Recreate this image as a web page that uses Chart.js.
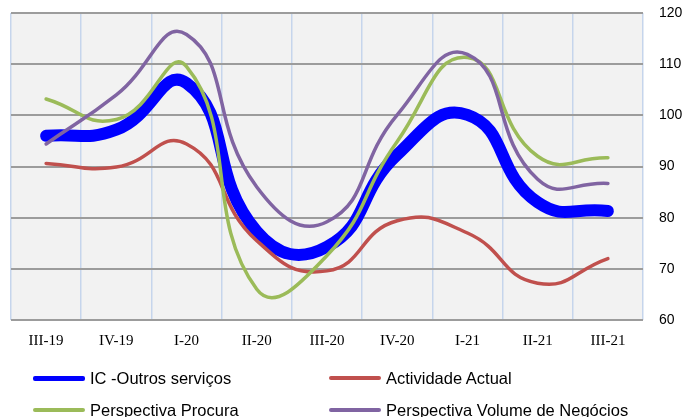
<!DOCTYPE html>
<html>
<head>
<meta charset="utf-8">
<script src="https://cdn.jsdelivr.net/npm/chart.js@4.4.1/dist/chart.umd.min.js"></script>
<style>
  html, body { margin: 0; padding: 0; background: #fff; }
  #wrap { position: relative; width: 687px; height: 417px; overflow: hidden; }
  #legend { position: absolute; left: 0; top: 0; width: 687px; height: 417px; pointer-events: none; }
  .item { position: absolute; display: flex; align-items: center; height: 24px;
          font-family: 'Liberation Sans', Arial, sans-serif; font-size: 16.5px; color: #000; white-space: nowrap; }
  .swatch { width: 52px; margin-right: 5px; border-radius: 2px; }
</style>
</head>
<body>
<div id="wrap">
  <canvas id="chart" width="687" height="417"></canvas>
  <div id="legend"></div>
</div>
<script>
// ---- data ----
const quarters = ['III-19', 'IV-19', 'I-20', 'II-20', 'III-20', 'IV-20', 'I-21', 'II-21', 'III-21'];
const icOutros = [96.0, 97.2, 106.3, 77.3, 74.3, 92.3, 100.1, 83.0, 81.3];
const actividade = [90.6, 89.9, 94.4, 75.5, 69.6, 79.4, 77.0, 67.2, 72.0];
const procura = [103.2, 99.2, 109.5, 66.0, 72.6, 94.9, 111.3, 92.0, 91.7];
const volume = [94.4, 104.0, 115.8, 86.0, 79.2, 100.1, 111.9, 87.5, 86.7];
const yTicks = [60, 70, 80, 90, 100, 110, 120];

const series = [
  { label: 'IC -Outros serviços', data: icOutros, color: '#0000FF', width: 12 },
  { label: 'Actividade Actual', data: actividade, color: '#C0504D', width: 3.5 },
  { label: 'Perspectiva Procura', data: procura, color: '#9BBB59', width: 3.5 },
  { label: 'Perspectiva Volume de Negócios', data: volume, color: '#8064A2', width: 3.5 }
];

// grey plot background
const plotBg = {
  id: 'plotBg',
  beforeDraw(chart) {
    const { ctx, chartArea: a } = chart;
    ctx.save();
    ctx.fillStyle = '#F2F2F2';
    ctx.fillRect(a.left, a.top, a.right - a.left, a.bottom - a.top);
    ctx.restore();
  }
};

const chart = new Chart(document.getElementById('chart'), {
  type: 'line',
  data: {
    labels: quarters,
    datasets: series.map((s, i) => ({
      label: s.label,
      data: s.data,
      borderColor: s.color,
      backgroundColor: s.color,
      borderWidth: s.width,
      borderCapStyle: 'round',
      borderJoinStyle: 'round',
      pointRadius: 0,
      tension: 0.5,
      fill: false,
      order: series.length - i
    }))
  },
  options: {
    responsive: false,
    animation: false,
    layout: { padding: { left: 11, top: 13, right: 0, bottom: 0 } },
    plugins: { legend: { display: false }, tooltip: { enabled: false } },
    scales: {
      x: {
        offset: true,
        grid: { offset: true, color: '#C6D5EC', lineWidth: 1.5, drawTicks: false },
        border: { display: false },
        ticks: { color: '#000', padding: 12, maxRotation: 0,
                 font: { family: "'Liberation Serif', serif", size: 15 } },
        afterFit(scale) { scale.height = 97; }
      },
      y: {
        position: 'right',
        min: 60,
        max: 120,
        afterBuildTicks(scale) { scale.ticks = yTicks.map(v => ({ value: v })); },
        grid: { color: '#9C9C9C', lineWidth: 2, drawTicks: false },
        border: { display: false },
        ticks: { color: '#000', padding: 16,
                 font: { family: "'Liberation Sans', Arial, sans-serif", size: 14 } },
        afterFit(scale) {
          scale.width = 44;
          scale.paddingTop = 0;
          scale.paddingBottom = 0;
        }
      }
    }
  },
  plugins: [plotBg]
});

// two-column legend under the plot
const legendSpots = [[33, 378], [329, 378], [33, 410], [329, 410]];
const legendEl = document.getElementById('legend');
series.forEach((s, i) => {
  const item = document.createElement('div');
  item.className = 'item';
  item.style.left = legendSpots[i][0] + 'px';
  item.style.top = (legendSpots[i][1] - 12) + 'px';
  const sw = document.createElement('span');
  sw.className = 'swatch';
  sw.style.height = (i === 0 ? 5 : 4) + 'px';
  sw.style.background = s.color;
  item.appendChild(sw);
  item.appendChild(document.createTextNode(s.label));
  legendEl.appendChild(item);
});
</script>
</body>
</html>
